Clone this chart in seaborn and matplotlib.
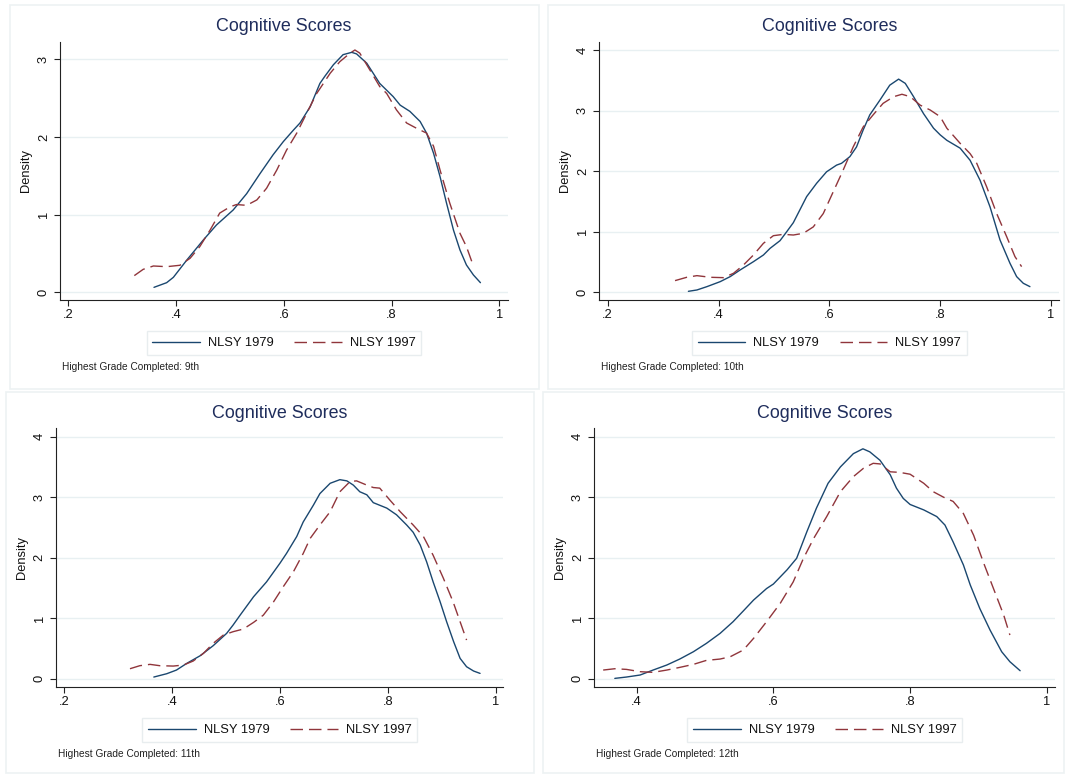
import matplotlib
matplotlib.use("Agg")
import matplotlib.pyplot as plt
from matplotlib.patches import Rectangle
import numpy as np
import pandas as pd
import seaborn as sns

# ---- Kernel density estimates of cognitive scores, by highest grade completed ----
grades = ["9th", "10th", "11th", "12th"]
series_names = ["NLSY 1979", "NLSY 1997"]

# Grade 9
g9_x79 = [0.359, 0.3825, 0.395, 0.42, 0.4506, 0.475, 0.506, 0.531, 0.556, 0.58, 0.599, 0.618,
          0.630, 0.649, 0.667, 0.676, 0.692, 0.710, 0.726, 0.735, 0.754, 0.778, 0.803, 0.816,
          0.834, 0.853, 0.865, 0.878, 0.890, 0.902, 0.915, 0.927, 0.939, 0.952, 0.965]
g9_y79 = [0.064, 0.124, 0.193, 0.416, 0.674, 0.867, 1.06, 1.27, 1.53, 1.77, 1.94, 2.09,
          2.18, 2.39, 2.69, 2.78, 2.93, 3.06, 3.09, 3.07, 2.95, 2.69, 2.52, 2.41,
          2.33, 2.20, 2.05, 1.79, 1.49, 1.15, 0.80, 0.545, 0.352, 0.223, 0.124]
g9_x97 = [0.3225, 0.339, 0.358, 0.3825, 0.407, 0.426, 0.444, 0.463, 0.481, 0.500, 0.512, 0.531,
          0.550, 0.568, 0.587, 0.605, 0.624, 0.642, 0.661, 0.686, 0.704, 0.723, 0.732, 0.741,
          0.760, 0.778, 0.791, 0.809, 0.828, 0.847, 0.865, 0.878, 0.890, 0.908, 0.927, 0.939, 0.949]
g9_y97 = [0.215, 0.296, 0.339, 0.33, 0.348, 0.438, 0.588, 0.80, 1.02, 1.10, 1.13, 1.12,
          1.19, 1.34, 1.575, 1.83, 2.05, 2.30, 2.56, 2.82, 2.97, 3.08, 3.12, 3.08,
          2.86, 2.65, 2.56, 2.35, 2.18, 2.11, 2.05, 1.88, 1.575, 1.15, 0.76, 0.588, 0.395]

# Grade 10
g10_x79 = [0.3456, 0.361, 0.379, 0.403, 0.421, 0.439, 0.463, 0.481, 0.493, 0.511, 0.523, 0.535,
           0.559, 0.577, 0.595, 0.613, 0.622, 0.637, 0.649, 0.661, 0.673, 0.691, 0.709, 0.725,
           0.737, 0.752, 0.770, 0.788, 0.800, 0.812, 0.836, 0.854, 0.872, 0.890, 0.908, 0.926,
           0.938, 0.950, 0.962]
g10_y79 = [0.0165, 0.0385, 0.0935, 0.176, 0.259, 0.369, 0.506, 0.616, 0.726, 0.853, 1.00, 1.15,
           1.58, 1.80, 1.99, 2.10, 2.13, 2.24, 2.40, 2.68, 2.93, 3.17, 3.42, 3.52,
           3.45, 3.23, 2.95, 2.71, 2.60, 2.51, 2.38, 2.18, 1.85, 1.41, 0.864, 0.479,
           0.259, 0.149, 0.0935]
g10_x97 = [0.3215, 0.3426, 0.361, 0.385, 0.409, 0.427, 0.445, 0.463, 0.481, 0.499, 0.517, 0.535,
           0.553, 0.571, 0.589, 0.607, 0.625, 0.643, 0.661, 0.679, 0.697, 0.716, 0.731, 0.746,
           0.764, 0.782, 0.800, 0.812, 0.836, 0.854, 0.866, 0.884, 0.902, 0.920, 0.935, 0.947]
g10_y97 = [0.193, 0.248, 0.275, 0.248, 0.242, 0.314, 0.451, 0.616, 0.809, 0.935, 0.957, 0.946,
           0.974, 1.08, 1.30, 1.66, 2.02, 2.40, 2.73, 2.93, 3.12, 3.23, 3.27, 3.23,
           3.09, 3.01, 2.90, 2.71, 2.46, 2.29, 2.13, 1.74, 1.30, 0.919, 0.589, 0.424]

# Grade 11
g11_x79 = [0.366, 0.390, 0.408, 0.427, 0.452, 0.476, 0.501, 0.513, 0.526, 0.551, 0.575, 0.600,
           0.612, 0.631, 0.643, 0.662, 0.674, 0.693, 0.711, 0.724, 0.736, 0.748, 0.761, 0.773,
           0.798, 0.816, 0.835, 0.847, 0.860, 0.872, 0.884, 0.897, 0.909, 0.922, 0.934, 0.946,
           0.959, 0.971]
g11_y79 = [0.0275, 0.0826, 0.143, 0.253, 0.380, 0.545, 0.749, 0.887, 1.05, 1.355, 1.60, 1.91,
           2.07, 2.35, 2.59, 2.87, 3.06, 3.23, 3.29, 3.27, 3.20, 3.09, 3.04, 2.91,
           2.82, 2.71, 2.54, 2.42, 2.21, 1.93, 1.60, 1.27, 0.942, 0.612, 0.336, 0.198,
           0.127, 0.088]
g11_x97 = [0.3218, 0.340, 0.359, 0.377, 0.402, 0.421, 0.439, 0.458, 0.476, 0.495, 0.513, 0.532,
           0.551, 0.569, 0.588, 0.606, 0.625, 0.643, 0.656, 0.674, 0.693, 0.711, 0.730, 0.742,
           0.761, 0.773, 0.785, 0.804, 0.823, 0.847, 0.866, 0.884, 0.903, 0.921, 0.934, 0.946]
g11_y97 = [0.165, 0.215, 0.237, 0.215, 0.209, 0.226, 0.292, 0.419, 0.584, 0.722, 0.777, 0.821,
           0.931, 1.05, 1.27, 1.52, 1.77, 2.07, 2.32, 2.54, 2.76, 3.09, 3.26, 3.27,
           3.20, 3.16, 3.15, 2.95, 2.76, 2.54, 2.35, 2.04, 1.66, 1.27, 0.942, 0.639]

# Grade 12
g12_x79 = [0.368, 0.385, 0.405, 0.424, 0.444, 0.463, 0.483, 0.502, 0.522, 0.541, 0.556, 0.571,
           0.590, 0.600, 0.620, 0.634, 0.649, 0.663, 0.680, 0.698, 0.717, 0.731, 0.741, 0.756,
           0.771, 0.780, 0.790, 0.800, 0.820, 0.839, 0.851, 0.863, 0.878, 0.888, 0.902, 0.917,
           0.934, 0.946, 0.961]
g12_y79 = [0.0055, 0.0275, 0.061, 0.143, 0.226, 0.325, 0.446, 0.584, 0.749, 0.942, 1.12, 1.30,
           1.49, 1.565, 1.80, 1.99, 2.43, 2.82, 3.23, 3.50, 3.72, 3.80, 3.75, 3.61,
           3.37, 3.15, 2.98, 2.88, 2.79, 2.68, 2.54, 2.26, 1.88, 1.55, 1.16, 0.804,
           0.446, 0.281, 0.132]
g12_x97 = [0.351, 0.368, 0.385, 0.405, 0.424, 0.444, 0.463, 0.483, 0.502, 0.522, 0.537, 0.556,
           0.571, 0.590, 0.610, 0.629, 0.644, 0.659, 0.678, 0.698, 0.717, 0.732, 0.746, 0.756,
           0.771, 0.785, 0.800, 0.820, 0.834, 0.849, 0.863, 0.878, 0.893, 0.907, 0.922, 0.937,
           0.946]
g12_y97 = [0.143, 0.165, 0.154, 0.116, 0.105, 0.143, 0.187, 0.237, 0.303, 0.325, 0.364, 0.474,
           0.667, 0.942, 1.245, 1.60, 1.99, 2.32, 2.68, 3.09, 3.34, 3.48, 3.56, 3.55,
           3.42, 3.41, 3.38, 3.23, 3.09, 3.00, 2.93, 2.73, 2.37, 1.93, 1.49, 1.05,
           0.722]

panel_data = [
    (g9_x79, g9_y79, g9_x97, g9_y97),
    (g10_x79, g10_y79, g10_x97, g10_y97),
    (g11_x79, g11_y79, g11_x97, g11_y97),
    (g12_x79, g12_y79, g12_x97, g12_y97),
]

x_ticks = [[0.2, 0.4, 0.6, 0.8, 1.0]] * 3 + [[0.4, 0.6, 0.8, 1.0]]
x_ticklabels = [[".2", ".4", ".6", ".8", "1"]] * 3 + [[".4", ".6", ".8", "1"]]
y_ticks = [[0, 1, 2, 3], [0, 1, 2, 3, 4], [0, 1, 2, 3, 4], [0, 1, 2, 3, 4]]

# ---- style ----
sns.set_theme(style="white")
plt.rcParams["font.family"] = ["Liberation Sans", "DejaVu Sans"]

NAVY = "#1a476f"
MAROON = "#90353b"
TITLE_COLOR = "#1f2d5c"
GRID = "#e8f0f2"
FRAME = "#edf2f3"

W, H = 1065, 774
fig = plt.figure(figsize=(W / 100, H / 100), dpi=100)
fig.patch.set_facecolor("white")

# axes boxes in pixels: (left, top, right, bottom)
ax_boxes = [
    (60.3, 41.7, 507.7, 300.0),
    (599.3, 41.7, 1059.3, 300.0),
    (56.0, 428.3, 503.3, 687.3),
    (594.3, 428.3, 1055.0, 687.3),
]
xlims = [(0.1851, 1.0156), (0.1848, 1.015), (0.1846, 1.0141), (0.338, 1.012)]
ylims = [(-0.099, 3.227), (-0.127, 4.138), (-0.142, 4.139), (-0.142, 4.139)]

# light frame around each sub-graph: (left, top, right, bottom)
frames = [
    (10, 5, 538.7, 389),
    (547.7, 5, 1064, 389),
    (6, 391.7, 534.3, 773),
    (543.3, 391.7, 1064, 773),
]
for (l, t, r, b) in frames:
    fig.patches.append(Rectangle((l / W, 1 - b / H), (r - l) / W, (b - t) / H,
                                 transform=fig.transFigure, fill=False,
                                 edgecolor=FRAME, linewidth=1.2, zorder=0))

for i, (box, data) in enumerate(zip(ax_boxes, panel_data)):
    l, t, r, b = box
    ax = fig.add_axes([l / W, 1 - b / H, (r - l) / W, (b - t) / H])
    x79, y79, x97, y97 = data

    sns.lineplot(x=x79, y=y79, ax=ax, color=NAVY, linewidth=1.0, sort=False,
                 estimator=None, label=series_names[0])
    sns.lineplot(x=x97, y=y97, ax=ax, color=MAROON, linewidth=1.0, sort=False,
                 estimator=None, label=series_names[1])
    ax.lines[-1].set_dashes((9, 4.3))

    ax.set_xlim(*xlims[i])
    ax.set_ylim(*ylims[i])
    ax.set_xticks(x_ticks[i])
    ax.set_xticklabels(x_ticklabels[i])
    ax.set_yticks(y_ticks[i])
    ax.set_yticklabels([str(v) for v in y_ticks[i]])

    ax.yaxis.grid(True, color=GRID, linewidth=1.0)
    ax.xaxis.grid(False)
    ax.set_axisbelow(True)

    for s in ["top", "right"]:
        ax.spines[s].set_visible(False)
    for s in ["left", "bottom"]:
        ax.spines[s].set_color("#222222")
        ax.spines[s].set_linewidth(0.8)

    ax.tick_params(axis="both", which="major", direction="out", length=4,
                   width=0.8, color="#222222", labelsize=9.3, labelcolor="#111111",
                   left=True, bottom=True)
    ax.tick_params(axis="x", pad=2.5)
    ax.tick_params(axis="y", pad=3.5, labelrotation=90)
    for lab in ax.get_yticklabels():
        lab.set_va("center")

    ax.set_xlabel("")
    ax.set_ylabel("Density", fontsize=9.3, color="#111111", labelpad=4)

    height_px = b - t
    ax.text(0.5, 1 + 15 / height_px, "Cognitive Scores", transform=ax.transAxes,
            ha="center", va="center", fontsize=12.9, color=TITLE_COLOR)

    handles = ax.lines[:2]
    leg = ax.legend(handles, series_names, loc="center", ncol=2,
                    bbox_to_anchor=(0.5, -43 / height_px), fontsize=9.3,
                    frameon=True, fancybox=False, handlelength=3.7,
                    handletextpad=0.6, columnspacing=1.6, borderpad=0.45,
                    borderaxespad=0)
    leg.get_frame().set_edgecolor("#e3e9eb")
    leg.get_frame().set_linewidth(1.0)
    for txt in leg.get_texts():
        txt.set_color("#111111")

    ax.text(2 / (r - l), -66.5 / height_px, f"Highest Grade Completed: {grades[i]}",
            transform=ax.transAxes, ha="left", va="center", fontsize=7.3,
            color="#222222")

fig.savefig("out.png", dpi=100, facecolor="white")
